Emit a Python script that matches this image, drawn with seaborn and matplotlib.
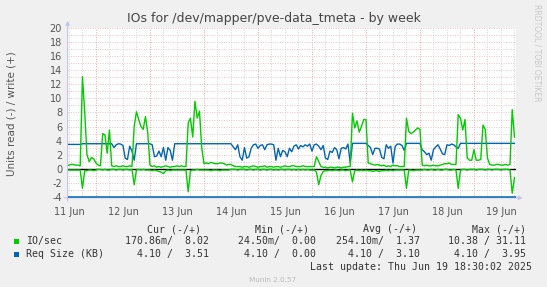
import numpy as np
import pandas as pd
import matplotlib
matplotlib.use("Agg")
import matplotlib.pyplot as plt
import seaborn as sns
from matplotlib.patches import Rectangle

# ---------------- data (hourly samples, first sample 2025-06-11 11:00) ----------------
io_write = [
    0.4, 0.5, 0.6, 0.6, 0.5, 0.5, 0.4, 13.1, 8.1, 2.0,
    1.0, 1.6, 1.4, 0.8, 0.5, 0.4, 5.0, 4.8, 2.2, 5.5,
    0.4, 0.3, 0.4, 0.3, 0.3, 0.4, 0.3, 0.3, 0.4, 0.3,
    6.0, 8.1, 7.0, 6.0, 5.6, 7.4, 5.2, 0.5, 0.3, 0.4,
    0.2, 0.3, 0.2, 0.3, 0.4, 0.3, 0.2, 0.3, 0.3, 0.4,
    0.3, 0.4, 0.3, 0.3, 6.5, 7.2, 4.5, 9.6, 7.2, 8.2,
    3.0, 0.7, 0.8, 0.7, 0.9, 0.8, 0.7, 0.7, 0.8, 0.8,
    0.7, 0.5, 0.6, 0.6, 0.4, 0.3, 0.3, 0.3, 0.2, 0.3,
    0.3, 0.2, 0.3, 0.4, 0.3, 0.2, 0.3, 0.3, 0.4, 0.2,
    0.3, 0.3, 0.2, 0.3, 0.3, 0.2, 0.3, 0.4, 0.3, 0.3,
    0.4, 0.4, 0.3, 0.3, 0.3, 0.4, 0.3, 0.3, 0.3, 0.3,
    0.3, 1.7, 1.0, 0.3, 0.2, 0.2, 0.1, 0.2, 0.2, 0.1,
    0.2, 0.2, 0.1, 0.2, 0.2, 0.3, 0.3, 7.9, 5.8, 6.8,
    5.2, 6.0, 7.0, 7.0, 0.8, 0.7, 0.6, 0.5, 0.6, 0.5,
    0.4, 0.5, 0.3, 0.4, 0.3, 0.5, 0.4, 0.4, 0.3, 0.3,
    0.3, 7.2, 5.3, 5.0, 5.2, 5.5, 5.8, 5.6, 0.5, 0.4,
    0.5, 0.4, 0.4, 0.5, 0.4, 0.4, 0.5, 0.6, 0.7, 0.7,
    0.8, 0.6, 0.6, 0.6, 7.7, 7.2, 5.5, 7.0, 1.5, 1.2,
    1.2, 2.7, 1.2, 1.2, 1.3, 6.2, 5.6, 1.5, 0.6, 0.5,
    0.5, 0.6, 0.6, 0.5, 0.5, 0.6, 0.5, 0.6, 8.4, 4.5,
]
io_read = [
    0.2, 0.2, 0.2, 0.2, 0.2, 0.2, 0.2, 2.8, 0.3, 0.3,
    0.2, 0.2, 0.3, 0.2, 0.1, 0.1, 0.2, 0.1, 0.2, 0.2,
    0.1, 0.1, 0.2, 0.1, 0.1, 0.2, 0.1, 0.1, 0.2, 0.1,
    2.3, 0.2, 0.1, 0.2, 0.1, 0.2, 0.2, 0.2, 0.3, 0.2,
    0.3, 0.4, 0.5, 0.7, 0.3, 0.2, 0.3, 0.2, 0.2, 0.2,
    0.2, 0.2, 0.2, 0.2, 3.3, 0.3, 0.2, 0.2, 0.1, 0.2,
    0.2, 0.2, 0.2, 0.2, 0.3, 0.2, 0.2, 0.2, 0.3, 0.2,
    0.2, 0.2, 0.2, 0.1, 0.1, 0.1, 0.2, 0.1, 0.1, 0.1,
    0.2, 0.1, 0.1, 0.2, 0.1, 0.1, 0.2, 0.1, 0.1, 0.2,
    0.1, 0.1, 0.2, 0.1, 0.2, 0.1, 0.1, 0.2, 0.1, 0.1,
    0.2, 0.1, 0.2, 0.1, 0.2, 0.1, 0.2, 0.1, 0.2, 0.2,
    0.2, 0.5, 2.3, 1.0, 0.4, 0.3, 0.3, 0.2, 0.3, 0.2,
    0.2, 0.3, 0.2, 0.2, 0.3, 0.2, 0.2, 1.9, 0.3, 0.2,
    0.3, 0.2, 0.3, 0.2, 0.3, 0.3, 0.4, 0.3, 0.3, 0.4,
    0.3, 0.3, 0.2, 0.3, 0.2, 0.3, 0.2, 0.2, 0.2, 0.2,
    0.2, 2.8, 0.2, 0.2, 0.3, 0.2, 0.2, 0.2, 0.2, 0.1,
    0.2, 0.2, 0.1, 0.2, 0.2, 0.1, 0.2, 0.2, 0.1, 0.1,
    0.2, 0.2, 0.1, 0.2, 2.8, 0.2, 0.1, 0.1, 0.2, 0.1,
    0.1, 0.1, 0.2, 0.1, 0.1, 0.1, 0.2, 0.1, 0.1, 0.2,
    0.1, 0.1, 0.1, 0.2, 0.1, 0.1, 0.1, 0.2, 3.5, 1.3,
]
size_write = [
    3.45, 3.45, 3.45, 3.45, 3.45, 3.45, 3.45, 3.55, 3.55, 3.55,
    3.55, 3.55, 3.55, 3.55, 3.55, 3.55, 3.55, 3.55, 3.55, 3.55,
    3.55, 3.0, 3.4, 3.55, 3.5, 3.3, 1.5, 1.3, 3.2, 2.5,
    1.2, 3.55, 3.55, 3.55, 3.55, 3.55, 3.55, 3.55, 3.4, 1.7,
    1.8, 2.5, 1.7, 3.0, 1.2, 3.0, 2.6, 1.2, 3.55, 3.55,
    3.55, 3.55, 3.55, 3.55, 3.55, 3.55, 3.55, 3.55, 3.55, 3.55,
    3.55, 3.55, 3.55, 3.55, 3.55, 3.55, 3.55, 3.55, 3.55, 3.55,
    3.55, 3.55, 3.55, 3.55, 3.1, 2.7, 3.4, 1.7, 1.2, 3.0,
    1.5, 1.7, 2.9, 3.4, 3.5, 2.9, 3.3, 3.4, 2.7, 3.4,
    3.5, 3.5, 3.4, 1.2, 2.9, 1.7, 2.6, 2.4, 1.7, 2.9,
    2.4, 3.2, 3.4, 2.8, 3.3, 3.1, 3.4, 3.2, 3.5, 2.5,
    3.4, 3.5, 3.2, 2.7, 3.3, 1.5, 1.3, 2.5, 2.3, 3.0,
    2.7, 1.4, 2.9, 3.0, 2.8, 3.5, 0.8, 3.6, 3.6, 3.6,
    3.6, 3.6, 3.6, 3.6, 3.3, 3.0, 2.0, 2.9, 2.9, 2.8,
    1.6, 1.4, 3.4, 2.9, 3.2, 0.8, 3.2, 3.5, 3.5, 3.3,
    2.6, 3.6, 3.6, 3.6, 3.6, 3.6, 3.6, 3.6, 2.7, 2.4,
    2.0, 2.2, 1.2, 2.7, 3.1, 3.4, 2.8, 2.1, 2.0, 3.4,
    3.3, 3.5, 3.4, 3.1, 2.9, 3.6, 3.6, 3.6, 3.6, 3.6,
    3.6, 3.6, 3.6, 3.6, 3.6, 3.6, 3.6, 3.6, 3.6, 3.6,
    3.6, 3.6, 3.6, 3.6, 3.6, 3.6, 3.6, 3.6, 3.6, 3.6,
]
# read request size, sampled every 12 h from 2025-06-11 00:00
size_read = [4.10, 4.10, 4.10, 4.10, 4.10, 4.10, 4.10, 4.10, 4.10, 4.10,
             4.10, 4.10, 4.10, 4.10, 4.10, 4.10, 4.10, 4.10, 4.10]

day_labels = ["11 Jun", "12 Jun", "13 Jun", "14 Jun", "15 Jun",
              "16 Jun", "17 Jun", "18 Jun", "19 Jun"]
y_ticks = [-4, -2, 0, 2, 4, 6, 8, 10, 12, 14, 16, 18, 20]

legend_names = ["IO/sec", "Req Size (KB)"]
legend_headers = ["Cur (-/+)", "Min (-/+)", "Avg (-/+)", "Max (-/+)"]
legend_cur = ["170.86m/  8.02", "4.10 /  3.51"]
legend_min = ["24.50m/  0.00", "4.10 /  0.00"]
legend_avg = ["254.10m/  1.37", "4.10 /  3.10"]
legend_max = ["10.38 / 31.11", "4.10 /  3.95"]

title = "IOs for /dev/mapper/pve-data_tmeta - by week"
ylabel = "Units read (-) / write (+)"
last_update = "Last update: Thu Jun 19 18:30:02 2025"
footer = "Munin 2.0.57"
watermark = "RRDTOOL / TOBI OETIKER"

GREEN = "#00CC00"
BLUE = "#0066B3"

# ---------------- frames ----------------
times = pd.date_range("2025-06-11 11:00", periods=len(io_write), freq="h")
df = pd.DataFrame({
    "time": times,
    "write": io_write,
    "read": [-v for v in io_read],
    "size_w": size_write,
})
t_read = pd.date_range("2025-06-11 00:00", periods=len(size_read), freq="12h")
df_r = pd.DataFrame({"time": t_read, "size_r": [-v for v in size_read]})

# ---------------- figure ----------------
W_PX, H_PX = 547, 287
fig = plt.figure(figsize=(W_PX / 100, H_PX / 100), dpi=100, facecolor="#F0F0F0")
left_px, right_px, top_px, bot_px = 67.6, 515.6, 28.3, 197.75
ax = fig.add_axes([left_px / W_PX, 1 - bot_px / H_PX,
                   (right_px - left_px) / W_PX, (bot_px - top_px) / H_PX])
ax.set_facecolor("white")

x0 = pd.Timestamp("2025-06-11 11:24")
x1 = pd.Timestamp("2025-06-19 18:30")

# grid
dot = (0, (1, 1.5))
minor_times = [t for t in pd.date_range("2025-06-11 12:00", "2025-06-19 18:00", freq="6h")
               if t.hour != 0]
major_times = pd.date_range("2025-06-12", "2025-06-19", freq="D")
for t in minor_times:
    ax.axvline(t, color="#D4D4D4", lw=0.7, ls=dot, zorder=0)
for t in major_times:
    ax.axvline(t, color="#EBA8A8", lw=0.7, ls=dot, zorder=0)
for v in range(-4, 21):
    ax.axhline(v, color="#F0C4C4", lw=0.7, ls=dot, zorder=0)

ax.axhline(0, color="black", lw=1.0, zorder=1)

sns.lineplot(data=df_r, x="time", y="size_r", color=BLUE, lw=1.1, ax=ax,
             legend=False, zorder=2)
sns.lineplot(data=df, x="time", y="size_w", color=BLUE, lw=1.0, ax=ax,
             legend=False, zorder=2)
sns.lineplot(data=df, x="time", y="read", color=GREEN, lw=1.0, ax=ax,
             legend=False, zorder=3)
sns.lineplot(data=df, x="time", y="write", color=GREEN, lw=1.0, ax=ax,
             legend=False, zorder=3)

ax.set_xlim(x0, x1)
ax.set_ylim(-4.15, 20)
ax.set_xlabel("")
ax.set_ylabel("")

noon = pd.date_range("2025-06-11 12:00", periods=len(day_labels), freq="D")
ax.set_xticks(noon)
ax.set_xticklabels(day_labels)
ax.set_yticks(y_ticks)
ax.set_yticklabels([str(v) for v in y_ticks])
ax.tick_params(axis="x", length=0, pad=6.5, labelsize=7, labelcolor="#555555")
ax.tick_params(axis="y", length=0, pad=4, labelsize=7, labelcolor="#555555")
for s in ax.spines.values():
    s.set_visible(False)

axis_col = "#C4C4EC"
ax.annotate("", xy=(1.016, 0), xytext=(-0.008, 0), xycoords="axes fraction",
            arrowprops=dict(arrowstyle="-|>", color=axis_col, lw=0.8,
                            mutation_scale=6, shrinkA=0, shrinkB=0), zorder=1)
ax.annotate("", xy=(0, 1.045), xytext=(0, -0.02), xycoords="axes fraction",
            arrowprops=dict(arrowstyle="-|>", color=axis_col, lw=0.8,
                            mutation_scale=6, shrinkA=0, shrinkB=0), zorder=1)

def fx(px):
    return px / W_PX

def fy(py):
    return 1 - py / H_PX

fig.text(fx(273.5), fy(18.5), title, ha="center", va="center", fontsize=9,
         color="#444444")
fig.text(fx(11.5), fy(114), ylabel, ha="center", va="center", rotation=90,
         fontsize=7.5, color="#555555")
fig.text(fx(537.5), fy(53), watermark, ha="center", va="center", rotation=270,
         fontsize=5.5, color="#C8C8C8")

mono = dict(family="DejaVu Sans Mono", fontsize=7.1, color="#333333", va="center")
row_y = [241.4, 254.3]
head_y = 229.2
head_right = [200.6, 308.8, 417.0, 526.2]
val_right = [209.0, 316.0, 420.5, 526.2]
for h, xr in zip(legend_headers, head_right):
    fig.text(fx(xr), fy(head_y), h, ha="right", **mono)
cols = [legend_cur, legend_min, legend_avg, legend_max]
colors = [GREEN, BLUE]
for i, name in enumerate(legend_names):
    y = row_y[i]
    fig.add_artist(Rectangle((fx(13.5), fy(y + 2.6)), 5.2 / W_PX, 5.2 / H_PX,
                             transform=fig.transFigure, facecolor=colors[i],
                             edgecolor="none"))
    fig.text(fx(26.2), fy(y), name, ha="left", **mono)
    for col, xr in zip(cols, val_right):
        fig.text(fx(xr), fy(y), col[i], ha="right", **mono)
fig.text(fx(532.5), fy(267.2), last_update, ha="right", **mono)
fig.text(fx(273), fy(279.8), footer, ha="center", va="center", fontsize=5.2,
         color="#BBBBBB")

fig.savefig("out.png", dpi=100, facecolor=fig.get_facecolor())
